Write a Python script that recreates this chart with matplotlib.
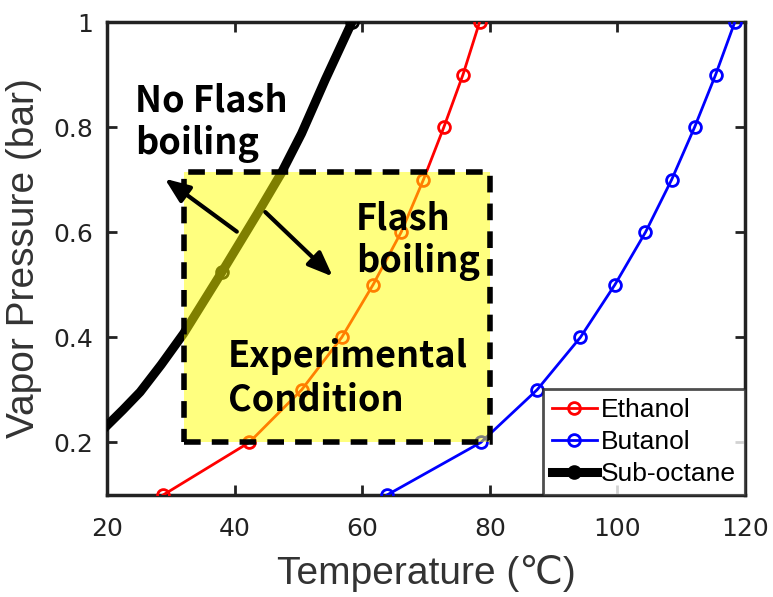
import numpy as np
import matplotlib
matplotlib.use('Agg')
import matplotlib.pyplot as plt
from matplotlib.patches import Rectangle

# vapor pressure curves (temperature in C, pressure in bar)
ethanol_T = [28.8, 42.3, 50.5, 56.8, 61.7, 66.1, 69.6, 72.8, 75.8, 78.4]
ethanol_P = [0.1, 0.2, 0.3, 0.4, 0.5, 0.6, 0.7, 0.8, 0.9, 1.0]
butanol_T = [63.9, 78.6, 87.4, 94.2, 99.6, 104.4, 108.5, 112.1, 115.4, 118.4]
butanol_P = [0.1, 0.2, 0.3, 0.4, 0.5, 0.6, 0.7, 0.8, 0.9, 1.0]
octane_T = [20.0, 22.5, 25.2, 28.5, 32.0, 38.0, 43.6, 47.3, 50.5, 54.2, 58.4]
octane_P = [0.232, 0.262, 0.296, 0.348, 0.407, 0.524, 0.636, 0.712, 0.788, 0.890, 1.0]
octane_marks = [5, 10]

# experimental window
box_T = [32.0, 80.0]
box_P = [0.2, 0.715]

x_ticks = [20, 40, 60, 80, 100, 120]
y_ticks = [0.2, 0.4, 0.6, 0.8, 1.0]
y_ticklabels = ['0.2', '0.4', '0.6', '0.8', '1']

plt.rcParams['font.family'] = ['Liberation Sans', 'DejaVu Sans']

fig = plt.figure(figsize=(7.73, 5.97), dpi=100)
ax = fig.add_axes([0.1384, 0.1709, 0.8254, 0.7922])

ax.plot(ethanol_T, ethanol_P, '-o', color='red', lw=2, ms=8.5, mew=2,
        mfc='none', label='Ethanol', zorder=3)
ax.plot(butanol_T, butanol_P, '-o', color='blue', lw=2, ms=8.5, mew=2,
        mfc='none', label='Butanol', zorder=3)
ax.plot(octane_T, octane_P, '-o', color='black', lw=6.5, ms=8.5, mew=2,
        mfc='none', markevery=octane_marks, label='Sub-octane', zorder=3,
        solid_joinstyle='round')

rect = Rectangle((box_T[0], box_P[0]), box_T[1] - box_T[0], box_P[1] - box_P[0],
                 facecolor=(1, 1, 0, 0.5), edgecolor='black', lw=4,
                 linestyle=(0, (3, 2)), zorder=4)
ax.add_patch(rect)

bold = dict(fontsize=26, fontweight='bold', family=['Noto Sans CJK KR', 'DejaVu Sans'],
            color='black', zorder=6, linespacing=1.2)
ax.text(24.4, 0.885, 'No Flash\nboiling', va='top', ha='left', **bold)
ax.text(59.0, 0.66, 'Flash\nboiling', va='top', ha='left', **bold)
ax.text(39.0, 0.398, 'Experimental\nCondition', va='top', ha='left', **bold)

arrow = dict(arrowstyle='-|>,head_length=1.5,head_width=0.6', color='black', lw=3)
ax.annotate('', xy=(28.7, 0.705), xytext=(40.7, 0.598), arrowprops=arrow, zorder=6)
ax.annotate('', xy=(55.7, 0.512), xytext=(44.5, 0.642), arrowprops=arrow, zorder=6)

ax.set_xlim(20, 120)
ax.set_ylim(0.1, 1.0)
ax.set_xticks(x_ticks)
ax.set_yticks(y_ticks)
ax.set_yticklabels(y_ticklabels)
ax.tick_params(direction='in', length=7, width=2, top=True, right=True,
               labelsize=18, colors='#222222', labelfontfamily='DejaVu Sans')
ax.tick_params(axis='x', pad=16)
ax.tick_params(axis='y', pad=10)
for s in ax.spines.values():
    s.set_linewidth(2.5)
    s.set_color('#222222')

ax.set_xlabel('Temperature (℃)', fontsize=28, color='#333333', labelpad=10)
ax.set_ylabel('Vapor Pressure (bar)', fontsize=28, color='#333333', labelpad=8)

leg = ax.legend(loc='lower right', fontsize=19, borderaxespad=0, handlelength=1.7,
                handletextpad=0.15, borderpad=0.35, labelspacing=0.3, fancybox=False)
leg.get_frame().set_edgecolor('#222222')
leg.get_frame().set_linewidth(2)
leg.set_zorder(7)

fig.savefig('out.png', dpi=100)
